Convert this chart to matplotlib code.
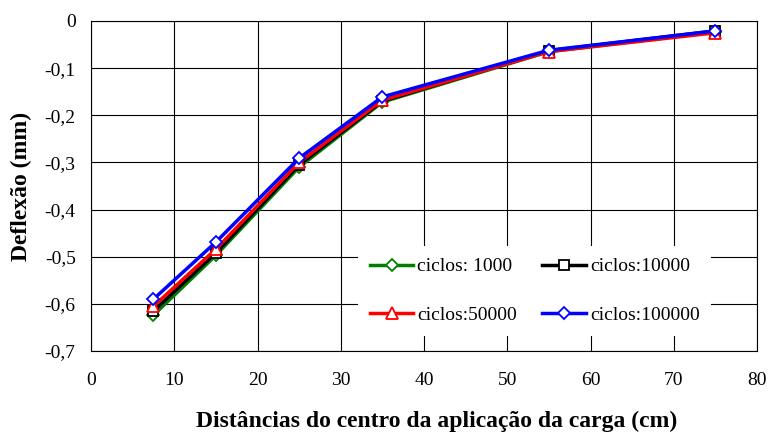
import numpy as np
import matplotlib
matplotlib.use("Agg")
from matplotlib import pyplot as plt

plt.rcParams['font.family'] = ['Liberation Serif', 'DejaVu Serif']

# distancias (cm) e deflexoes (mm)
dist = [7.5, 15, 25, 35, 55, 75]
c1000 = [-0.624, -0.497, -0.310, -0.172, -0.065, -0.023]
c10000 = [-0.615, -0.492, -0.305, -0.170, -0.063, -0.021]
c50000 = [-0.605, -0.484, -0.300, -0.168, -0.065, -0.025]
c100000 = [-0.590, -0.469, -0.291, -0.161, -0.062, -0.021]

series = [
    ("ciclos: 1000", c1000, "green", "D", 6),
    ("ciclos:10000", c10000, "black", "s", 7),
    ("ciclos:50000", c50000, "red", "^", 8),
    ("ciclos:100000", c100000, "blue", "D", 6),
]

fig = plt.figure(figsize=(7.68, 4.32), dpi=100)
ax = fig.add_axes([0.1185, 0.1875, 0.8672, 0.7639])

linhas = []
for lab, vals, col, mk, ms in series:
    l, = ax.plot(dist, vals, color=col, lw=2.5, marker=mk, ms=ms,
                 mfc="white", mec=col, mew=1.3, label=lab)
    linhas.append(l)

ax.set_xlim(0, 80)
ax.set_ylim(-0.7, 0)
ax.set_xticks(np.arange(0, 81, 10))
ax.set_yticks(np.arange(-0.7, 0.01, 0.1))
ax.set_yticklabels(["-0,7", "-0,6", "-0,5", "-0,4", "-0,3", "-0,2", "-0,1", "0"])
ax.grid(True, color="black", lw=0.8)
ax.tick_params(labelsize=14, length=0)
ax.tick_params(axis="x", pad=15)
ax.tick_params(axis="y", pad=11)
for s in ax.spines.values():
    s.set_linewidth(0.8)

ax.set_xlabel("Distâncias do centro da aplicação da carga (cm)",
              fontsize=17, fontweight="bold")
ax.xaxis.set_label_coords(0.519, -0.182)
ax.set_ylabel("Deflexão (mm)", fontsize=17, fontweight="bold")
ax.yaxis.set_label_coords(-0.088, 0.5)

# ordem por linha: 1000, 10000 / 50000, 100000
ordem = [linhas[0], linhas[2], linhas[1], linhas[3]]
leg = ax.legend(ordem, [l.get_label() for l in ordem], ncol=2,
                loc="upper left", bbox_to_anchor=(0.401, 0.318),
                fontsize=14, frameon=True, framealpha=1, edgecolor="white",
                handlelength=2.25, columnspacing=1.3, labelspacing=1.6,
                handletextpad=0.2, borderpad=0.6, borderaxespad=0)
leg.get_frame().set_linewidth(0)
leg.get_frame().set_boxstyle("square", pad=0)

plt.savefig("out.png", dpi=100)
